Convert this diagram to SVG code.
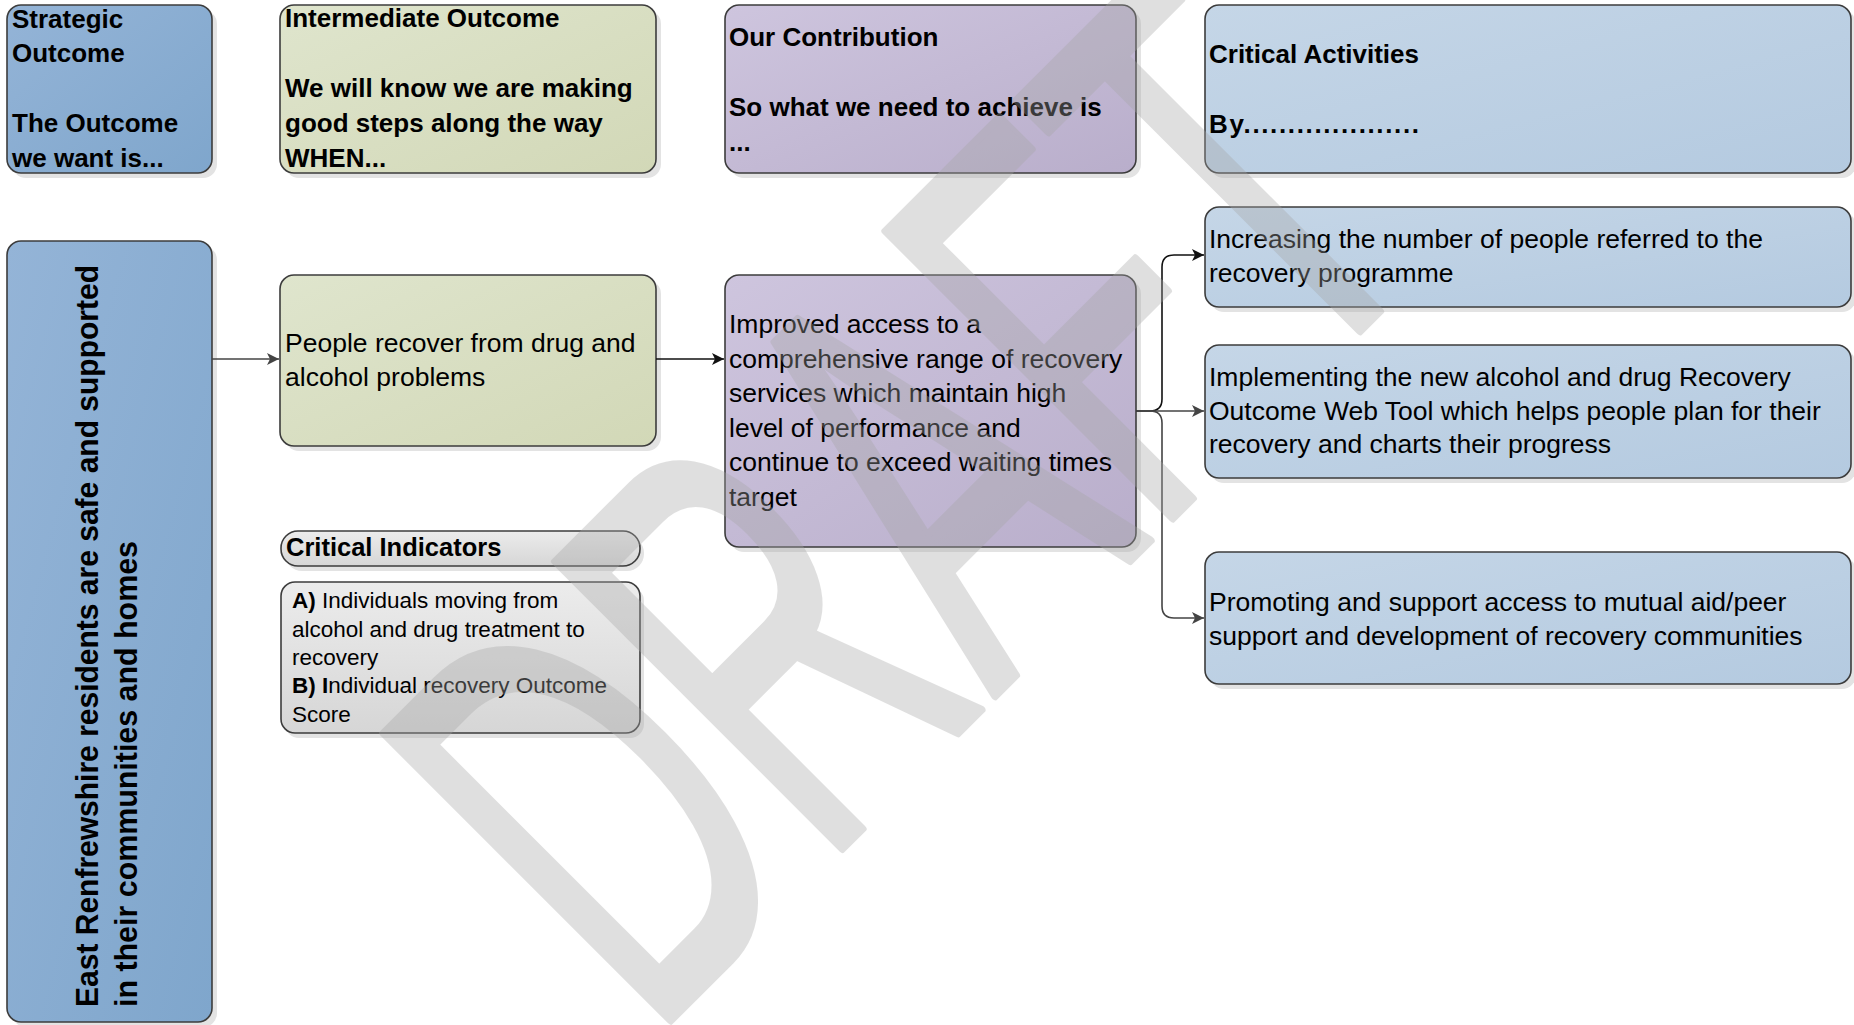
<svg xmlns="http://www.w3.org/2000/svg" width="1854" height="1025" viewBox="0 0 1854 1025">
<defs>
<linearGradient id="gBlue" x1="0" y1="0" x2="1" y2="1"><stop offset="0" stop-color="#94b4d7"/><stop offset="1" stop-color="#7fa6cc"/></linearGradient>
<linearGradient id="gGreen" x1="0" y1="0" x2="1" y2="1"><stop offset="0" stop-color="#dfe5cd"/><stop offset="1" stop-color="#d2d8b7"/></linearGradient>
<linearGradient id="gPurple" x1="0" y1="0" x2="1" y2="1"><stop offset="0" stop-color="#cec5de"/><stop offset="1" stop-color="#b9aecb"/></linearGradient>
<linearGradient id="gLight" x1="0" y1="0" x2="1" y2="1"><stop offset="0" stop-color="#c5d6e7"/><stop offset="1" stop-color="#b4cae0"/></linearGradient>
<linearGradient id="gGray" x1="0" y1="0" x2="0" y2="1"><stop offset="0" stop-color="#ececec"/><stop offset="1" stop-color="#d6d6d6"/></linearGradient>
<marker id="aBlack" markerUnits="userSpaceOnUse" markerWidth="12" markerHeight="12" refX="12" refY="6" orient="auto"><path d="M0,0 L12,6 L0,12 L3,6 z" fill="#111"/></marker>
<marker id="aGray" markerUnits="userSpaceOnUse" markerWidth="12" markerHeight="12" refX="12" refY="6" orient="auto"><path d="M0,0 L12,6 L0,12 L3,6 z" fill="#444"/></marker>
</defs>
<style>
.box{stroke:#3c3c3c;stroke-width:1.6}
.sh{fill:#e3e3e3}
.hb{font-family:"Liberation Sans",Arial,sans-serif;font-weight:bold;font-size:26px;fill:#000}
.tx{font-family:"Liberation Sans",Arial,sans-serif;font-size:26.5px;fill:#000}
.ci{font-family:"Liberation Sans",Arial,sans-serif;font-size:22.5px;fill:#000}
.vt{font-family:"Liberation Sans",Arial,sans-serif;font-weight:bold;font-size:31px;fill:#000}
.cb{fill:none;stroke:#111;stroke-width:1.6}
.cg{fill:none;stroke:#444;stroke-width:1.6}
.wm{font-family:"Liberation Sans",Arial,sans-serif;font-size:590px;fill:#a6a6a6;stroke:#a6a6a6;stroke-width:8;stroke-linejoin:round;opacity:0.35}
</style>
<rect width="1854" height="1025" fill="#fff"/>

<g id="strategic-header">
<rect class="sh" x="12" y="10" width="205" height="168" rx="14"/>
<rect class="box" x="7" y="5" width="205" height="168" rx="14" fill="url(#gBlue)"/>
<text class="hb" x="12" y="28">Strategic</text>
<text class="hb" x="12" y="62">Outcome</text>
<text class="hb" x="12" y="132">The Outcome</text>
<text class="hb" x="12" y="167">we want is...</text>
</g>

<g id="intermediate-header">
<rect class="sh" x="285" y="10" width="376" height="168" rx="14"/>
<rect class="box" x="280" y="5" width="376" height="168" rx="14" fill="url(#gGreen)"/>
<text class="hb" x="285" y="27">Intermediate Outcome</text>
<text class="hb" x="285" y="97">We will know we are making</text>
<text class="hb" x="285" y="132">good steps along the way</text>
<text class="hb" x="285" y="167">WHEN...</text>
</g>

<g id="contribution-header">
<rect class="sh" x="730" y="10" width="411" height="168" rx="14"/>
<rect class="box" x="725" y="5" width="411" height="168" rx="14" fill="url(#gPurple)"/>
<text class="hb" x="729" y="46">Our Contribution</text>
<text class="hb" x="729" y="116">So what we need to achieve is</text>
<text class="hb" x="729" y="151">...</text>
</g>

<g id="activities-header">
<rect class="sh" x="1210" y="10" width="646" height="168" rx="14"/>
<rect class="box" x="1205" y="5" width="646" height="168" rx="14" fill="url(#gLight)"/>
<text class="hb" x="1209" y="63">Critical Activities</text>
<text class="hb" x="1209" y="133" textLength="210" lengthAdjust="spacing">By....................</text>
</g>

<g id="strategic-outcome">
<rect class="sh" x="12" y="246" width="205" height="781" rx="14"/>
<rect class="box" x="7" y="241" width="205" height="781" rx="14" fill="url(#gBlue)"/>
<text class="vt" transform="translate(98,1007) rotate(-90)" textLength="742" lengthAdjust="spacingAndGlyphs">East Renfrewshire residents are safe and supported</text>
<text class="vt" transform="translate(137,1007) rotate(-90)" textLength="466" lengthAdjust="spacingAndGlyphs">in their communities and homes</text>
</g>

<g id="intermediate-outcome">
<rect class="sh" x="285" y="280" width="376" height="171" rx="14"/>
<rect class="box" x="280" y="275" width="376" height="171" rx="14" fill="url(#gGreen)"/>
<text class="tx" x="285" y="352">People recover from drug and</text>
<text class="tx" x="285" y="386">alcohol problems</text>
</g>

<g id="contribution">
<rect class="sh" x="730" y="280" width="411" height="272" rx="14"/>
<rect class="box" x="725" y="275" width="411" height="272" rx="14" fill="url(#gPurple)"/>
<text class="tx" x="729" y="333">Improved access to a</text>
<text class="tx" x="729" y="367.5">comprehensive range of recovery</text>
<text class="tx" x="729" y="402">services which maintain high</text>
<text class="tx" x="729" y="436.5">level of performance and</text>
<text class="tx" x="729" y="471">continue to exceed waiting times</text>
<text class="tx" x="729" y="505.5">target</text>
</g>

<g id="indicators-header">
<rect class="sh" x="285" y="536" width="359" height="35" rx="17"/>
<rect class="box" x="281" y="531" width="359" height="35" rx="17" fill="url(#gGray)"/>
<text class="hb" x="286" y="556" style="font-size:25.5px">Critical Indicators</text>
</g>

<g id="indicators">
<rect class="sh" x="285" y="587" width="359" height="151" rx="14"/>
<rect class="box" x="281" y="582" width="359" height="151" rx="14" fill="url(#gGray)"/>
<text class="ci" x="292" y="608"><tspan font-weight="bold">A)</tspan> Individuals moving from</text>
<text class="ci" x="292" y="637">alcohol and drug treatment to</text>
<text class="ci" x="292" y="665">recovery</text>
<text class="ci" x="292" y="693"><tspan font-weight="bold">B) I</tspan>ndividual recovery Outcome</text>
<text class="ci" x="292" y="722">Score</text>
</g>

<g id="activity-1">
<rect class="sh" x="1210" y="212" width="646" height="100" rx="14"/>
<rect class="box" x="1205" y="207" width="646" height="100" rx="14" fill="url(#gLight)"/>
<text class="tx" x="1209" y="248">Increasing the number of people referred to the</text>
<text class="tx" x="1209" y="282">recovery programme</text>
</g>

<g id="activity-2">
<rect class="sh" x="1210" y="350" width="646" height="133" rx="14"/>
<rect class="box" x="1205" y="345" width="646" height="133" rx="14" fill="url(#gLight)"/>
<text class="tx" x="1209" y="386">Implementing the new alcohol and drug Recovery</text>
<text class="tx" x="1209" y="420">Outcome Web Tool which helps people plan for their</text>
<text class="tx" x="1209" y="453">recovery and charts their progress</text>
</g>

<g id="activity-3">
<rect class="sh" x="1210" y="557" width="646" height="132" rx="14"/>
<rect class="box" x="1205" y="552" width="646" height="132" rx="14" fill="url(#gLight)"/>
<text class="tx" x="1209" y="611">Promoting and support access to mutual aid/peer</text>
<text class="tx" x="1209" y="645">support and development of recovery communities</text>
</g>

<g id="connectors">
<path class="cg" d="M212,359 H279" marker-end="url(#aGray)"/>
<path class="cb" d="M656,359 H724" marker-end="url(#aBlack)"/>
<path class="cb" d="M1136,411 H1150 Q1162,411 1162,399 V267 Q1162,255 1174,255 H1204" marker-end="url(#aBlack)"/>
<path class="cg" d="M1136,411 H1204" marker-end="url(#aGray)"/>
<path class="cg" d="M1150,411 Q1162,411 1162,423 V606 Q1162,618 1174,618 H1204" marker-end="url(#aGray)"/>
</g>

<g id="watermark">
<text class="wm" transform="translate(650,1041) rotate(-45) scale(0.57,1)">DRAFT</text>
</g>
</svg>
